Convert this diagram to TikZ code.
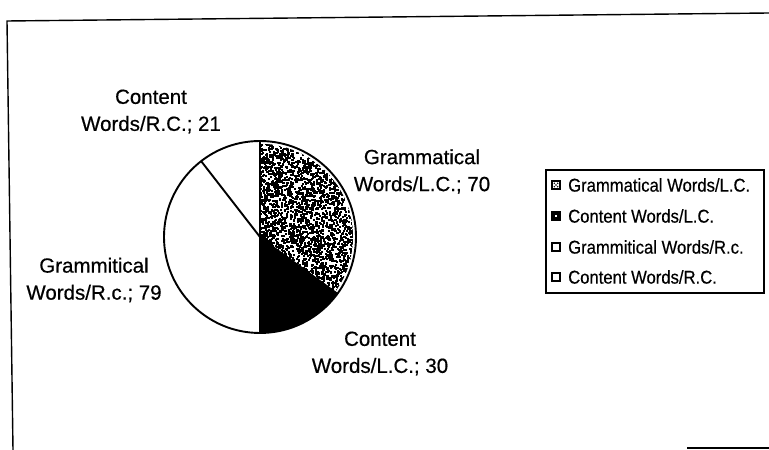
\documentclass[tikz,border=0pt]{standalone}
\usepackage{fontspec}
\setmainfont{Liberation Sans}
\newfontfamily\lblfont[FakeBold=0.5]{Liberation Sans}
\newfontfamily\legfont[FakeBold=0.4,FakeStretch=0.9]{Liberation Sans}
\begin{document}
\begin{tikzpicture}[x=1pt,y=1pt,
  lbl/.style={align=center, font=\lblfont\fontsize{20.5}{27}\selectfont, inner sep=0pt},
  legtxt/.style={anchor=west, font=\legfont\fontsize{18.5}{20}\selectfont, inner sep=0pt},
  legmark/.style={draw, line width=1.1pt, minimum size=8pt, inner sep=0pt},
  pieline/.style={line width=1.9pt},
  frameline/.style={line width=1.4pt},
]
\useasboundingbox (0,0) rectangle (769,450);
\fill[white] (0,0) rectangle (769,450);

% frame (scanned, slightly skewed)
\coordinate (ftl) at (7,429);
\coordinate (ftr) at (769,437);
\coordinate (fbl) at (13,0);
\coordinate (fbr1) at (687,2);
\coordinate (fbr2) at (769,2);
\draw[frameline] (fbl) -- (ftl) -- (ftr);
\draw[frameline] (fbr1) -- (fbr2);

% pie
\coordinate (c) at (260,213);
\fill[white] (c) circle (96);
\begin{scope}
  \clip (c) -- ++(90:93) arc[start angle=90,end angle=-36,radius=93] -- cycle;
  \pgfmathsetseed{4242}
  \foreach \i in {1,...,3300} {
    \pgfmathsetmacro\rx{258+98*rnd}
    \pgfmathsetmacro\ry{155+156*rnd}
    \fill[black] (\rx,\ry) rectangle ++(2.1,2.1);
  }
\end{scope}
\fill[black] (c) -- ++(-36:96) arc[start angle=-36,end angle=-90,radius=96] -- cycle;
\draw[pieline] (c) -- ++(90:96);
\draw[pieline] (c) -- ++(-90:96);
\draw[pieline] (c) -- ++(127.8:96);
\draw[line width=1pt] (c) -- ++(-36:96);
\draw[pieline] (c) circle (96);

% slice labels
\node[lbl] (lcr) at (151,338.5) {Content\\Words/R.C.; 21};
\node[lbl] (lgl) at (422,278.5) {Grammatical\\Words/L.C.; 70};
\node[lbl] (lgr) at (94,170) {Grammitical\\Words/R.c.; 79};
\node[lbl] (lcl) at (380,96.5) {Content\\Words/L.C.; 30};

% legend
\draw[line width=1.2pt] (546,157) rectangle (764,280);
\node[legmark, fill=white] (m1) at (556,265) {};
\foreach \dx/\dy in {-1.7/-1.7,1.7/-1.7,-1.7/1.7,1.7/1.7,0/0}
  \fill[black] ([shift={(\dx,\dy)}]m1.center) circle (0.8);
\node[legmark, fill=black] (m2) at (556,234) {};
\fill[white] ([shift={(-1.2,-1.4)}]m2.center) rectangle ++(2.4,2.8);
\node[legmark, fill=white] (m3) at (556,203) {};
\node[legmark, fill=white] (m4) at (556,173) {};
\node[legtxt] (t1) at (568,265) {Grammatical Words/L.C.};
\node[legtxt] (t2) at (568,234) {Content Words/L.C.};
\node[legtxt] (t3) at (568,203) {Grammitical Words/R.c.};
\node[legtxt] (t4) at (568,173) {Content Words/R.C.};
\end{tikzpicture}
\end{document}
